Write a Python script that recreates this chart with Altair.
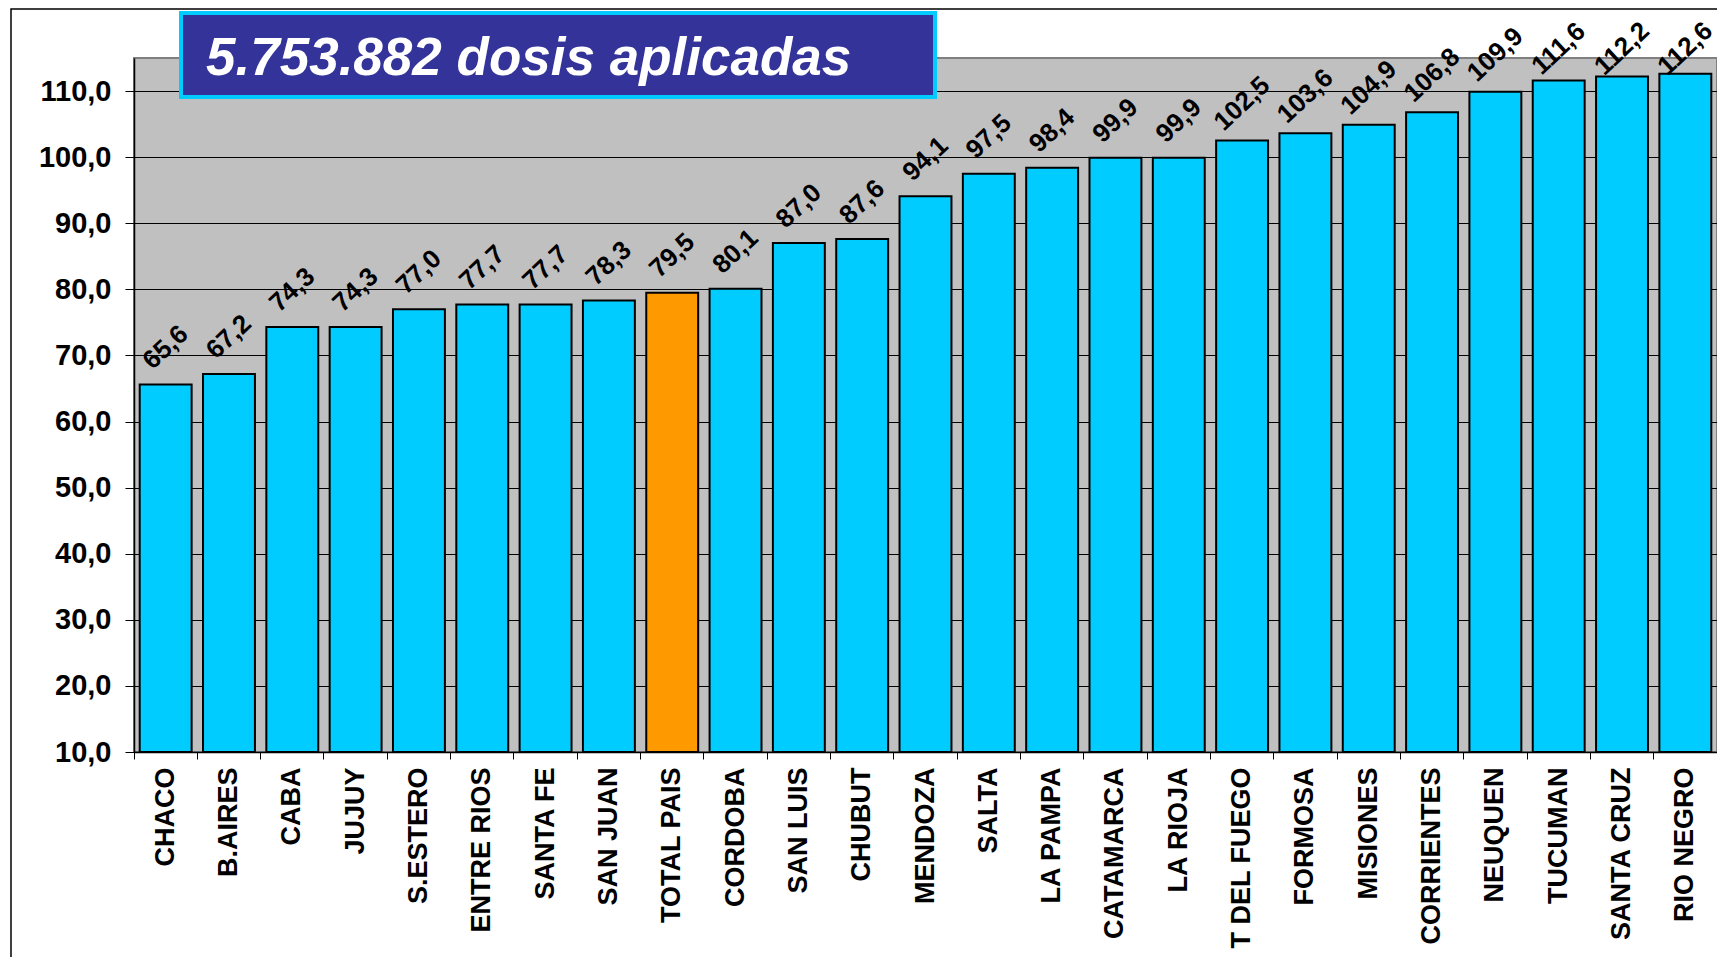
import altair as alt
import pandas as pd

provincias = ["CHACO", "B.AIRES", "CABA", "JUJUY", "S.ESTERO", "ENTRE RIOS", "SANTA FE",
              "SAN JUAN", "TOTAL PAIS", "CORDOBA", "SAN LUIS", "CHUBUT", "MENDOZA", "SALTA",
              "LA PAMPA", "CATAMARCA", "LA RIOJA", "T DEL FUEGO", "FORMOSA", "MISIONES",
              "CORRIENTES", "NEUQUEN", "TUCUMAN", "SANTA CRUZ", "RIO NEGRO"]
valores = [65.6, 67.2, 74.3, 74.3, 77.0, 77.7, 77.7, 78.3, 79.5, 80.1, 87.0, 87.6, 94.1,
           97.5, 98.4, 99.9, 99.9, 102.5, 103.6, 104.9, 106.8, 109.9, 111.6, 112.2, 112.6]
titulo = "5.753.882 dosis aplicadas"
y_ticks = [10, 20, 30, 40, 50, 60, 70, 80, 90, 100, 110]

W, H = 1583, 694
FONT = "Liberation Sans, Arial, sans-serif"

df = pd.DataFrame({"provincia": provincias, "valor": valores})

x_enc = alt.X("provincia:N", sort=provincias,
              scale=alt.Scale(paddingInner=0, paddingOuter=0),
              axis=alt.Axis(title=None, labelAngle=-90, bandPosition=0,
                            labelFontSize=27, labelFont=FONT, labelLimit=0,
                            labelFontWeight="bold", labelColor="black", labelPadding=8,
                            tickSize=7, tickColor="black", domainColor="black",
                            domainWidth=1.5, grid=False, labelOverlap=False))
y_enc = alt.Y("valor:Q",
              scale=alt.Scale(domain=[10, 115], nice=False, zero=False),
              axis=alt.Axis(title=None, values=y_ticks,
                            labelExpr="replace(format(datum.value, '.1f'), '.', ',')",
                            labelFontSize=29, labelFont=FONT, labelFontWeight="bold",
                            labelColor="black", labelPadding=14, tickSize=9,
                            tickColor="black", domainColor="black", domainWidth=1.5,
                            grid=True, gridColor="black", gridWidth=1))

base = alt.Chart(df)

bars = base.mark_bar(width=alt.RelativeBandSize(0.82), stroke="black", strokeWidth=2).encode(
    x=x_enc,
    y=y_enc,
    y2=alt.datum(10),
    color=alt.condition(alt.datum.provincia == "TOTAL PAIS",
                        alt.value("#FF9900"), alt.value("#00CCFF")),
)

labels = base.mark_text(angle=317, align="center", baseline="middle",
                        fontSize=26, font=FONT, fontWeight="bold", color="black").transform_calculate(
    etiqueta="replace(format(datum.valor, '.1f'), '.', ',')",
    ypos="min(datum.valor + 5.6, 116.4)",
).encode(
    x=alt.X("provincia:N", sort=provincias, bandPosition=0.5),
    y=alt.Y("ypos:Q"),
    text="etiqueta:N",
)

ann = pd.DataFrame({"t": [titulo]})

frame = alt.Chart(ann).mark_rect(filled=False, stroke="black", strokeWidth=1.5).encode(
    x=alt.value(-123), x2=alt.value(W + 60), y=alt.value(-49), y2=alt.value(H + 400)
)

box = alt.Chart(ann).mark_rect(fill="#333399", stroke="#00CCFF", strokeWidth=4).encode(
    x=alt.value(47), x2=alt.value(801), y=alt.value(-45), y2=alt.value(39)
)

title_text = alt.Chart(ann).mark_text(align="left", baseline="alphabetic", fontSize=53,
                                      font=FONT, fontWeight="bold", fontStyle="italic",
                                      color="white").encode(
    x=alt.value(72), y=alt.value(17), text="t:N"
)

chart = alt.layer(frame, bars, labels, box, title_text).properties(
    width=W, height=H,
    autosize=alt.AutoSizeParams(type="none"),
    padding={"left": 126, "top": 50, "right": 0, "bottom": 205},
    background="white",
).configure_view(
    fill="#C0C0C0", stroke="#808080", strokeWidth=2
)

chart.save("out.html", embed_options={"renderer": "svg", "actions": False})
